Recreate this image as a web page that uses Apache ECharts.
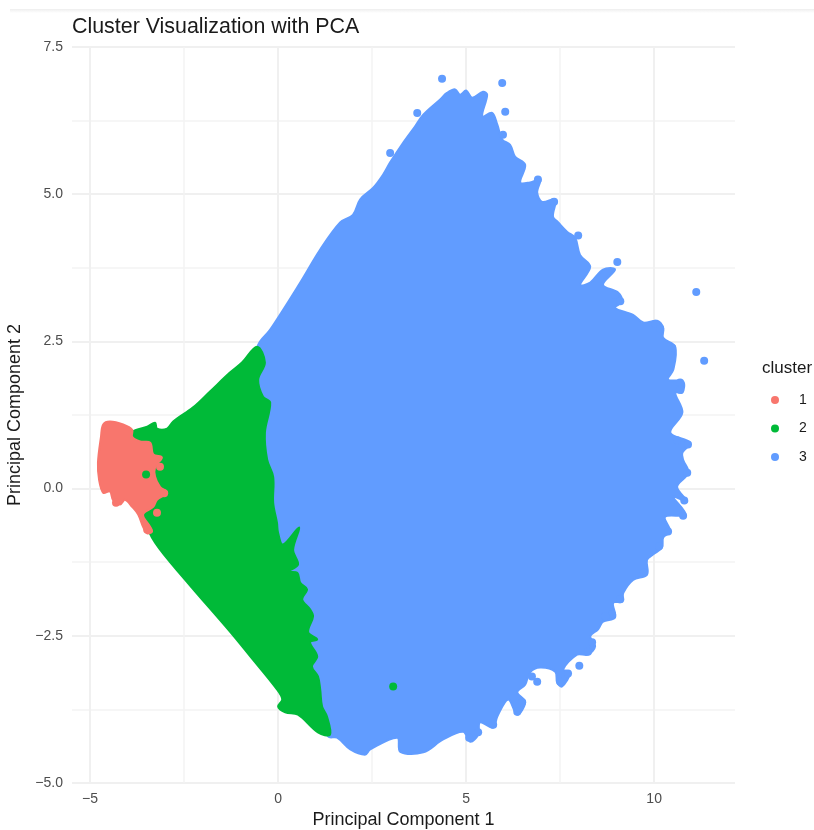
<!DOCTYPE html>
<html><head><meta charset="utf-8">
<style>html,body{margin:0;padding:0;background:#fff;overflow:hidden}#c{width:814px;height:830px;filter:blur(0.5px)}</style>
<script src="https://cdn.jsdelivr.net/npm/echarts@6/dist/echarts.min.js"></script>
</head><body><div id="c"></div>
<script>
const chartTitle = 'Cluster Visualization with PCA';
const xName = 'Principal Component 1';
const yName = 'Principal Component 2';
const legendTitle = 'cluster';
const clusters = ['1','2','3'];
const colors = ['#F8766D','#00BA38','#619CFF'];
const xMajor = [-5,0,5,10];
const xMinor = [-2.5,2.5,7.5];
const yMajor = [-5,-2.5,0,2.5,5,7.5];
const yMinor = [-3.75,-1.25,1.25,3.75,6.25];

// Outer envelopes of the dense point clouds (PC1, PC2)
const cloud3 = [[1.65,4.52],[1.99,4.65],[2.18,4.91],[2.53,5.11],[2.79,5.33],[2.98,5.54],[3.32,5.87],[3.64,6.15],[3.86,6.35],[4.31,6.61],[4.49,6.72],[4.71,6.78],[4.84,6.69],[5.00,6.76],[5.16,6.64],[5.45,6.74],[5.56,6.69],[5.43,6.32],[5.69,6.38],[5.83,6.18],[5.96,5.93],[6.17,5.84],[6.30,5.64],[6.57,5.50],[6.44,5.20],[6.70,5.20],[6.97,5.25],[6.89,5.03],[7.02,4.87],[7.37,4.91],[7.31,4.62],[7.45,4.52],[7.69,4.36],[7.90,4.26],[8.03,3.97],[8.30,3.77],[8.03,3.46],[8.30,3.50],[8.64,3.72],[8.96,3.72],[8.64,3.46],[9.04,3.33],[9.15,3.18],[8.96,3.07],[9.44,2.95],[9.71,2.82],[10.08,2.85],[10.24,2.73],[10.24,2.56],[10.56,2.41],[10.51,2.02],[10.37,1.85],[10.77,1.82],[10.75,1.63],[10.56,1.63],[10.75,1.29],[10.43,0.95],[10.96,0.78],[10.75,0.61],[10.77,0.49],[10.91,0.27],[10.61,0.03],[10.88,-0.22],[10.51,-0.14],[10.83,-0.44],[10.29,-0.48],[10.43,-0.73],[10.24,-0.83],[10.21,-1.00],[9.97,-1.12],[9.81,-1.21],[9.81,-1.46],[9.44,-1.55],[9.18,-1.77],[9.15,-1.92],[8.91,-1.94],[8.96,-2.19],[8.64,-2.26],[8.51,-2.39],[8.30,-2.51],[8.43,-2.68],[8.24,-2.82],[7.95,-2.82],[7.58,-3.07],[7.77,-3.12],[7.55,-3.36],[7.42,-3.29],[7.37,-3.11],[6.97,-3.04],[6.70,-3.12],[6.57,-3.33],[6.36,-3.46],[6.57,-3.62],[6.36,-3.84],[6.12,-3.58],[5.83,-3.87],[5.72,-4.06],[5.37,-3.97],[5.32,-4.18],[5.11,-4.30],[4.92,-4.13],[4.39,-4.26],[3.86,-4.48],[3.25,-4.47],[3.17,-4.23],[2.45,-4.43],[2.31,-4.52],[1.92,-4.43],[1.57,-4.23],[1.33,-4.21],[0.85,-3.58],[0.32,-1.88],[-0.43,0.15],[-0.74,1.85],[-0.53,2.44],[-0.21,2.70],[0.59,3.50],[1.12,4.06]];
const cloud2 = [[-0.56,2.41],[-0.96,2.14],[-1.28,1.97],[-1.81,1.65],[-2.26,1.38],[-2.79,1.14],[-2.95,1.02],[-3.22,1.02],[-3.27,1.12],[-3.48,1.05],[-3.86,0.97],[-3.88,0.87],[-3.67,0.15],[-3.54,-0.53],[-3.27,-0.92],[-2.47,-1.55],[-1.28,-2.43],[-0.74,-2.85],[-0.03,-3.41],[0.11,-3.58],[0,-3.70],[0.19,-3.80],[0.53,-3.84],[1.06,-4.14],[1.38,-4.18],[1.30,-3.87],[1.17,-3.70],[1.12,-3.41],[1.06,-3.19],[0.90,-3.02],[1.04,-2.85],[0.85,-2.61],[1.04,-2.56],[0.80,-2.44],[0.93,-2.17],[0.85,-2.05],[0.64,-1.88],[0.77,-1.71],[0.59,-1.60],[0.51,-1.43],[0.27,-1.41],[0.53,-1.29],[0.40,-1.04],[0.56,-0.66],[0.13,-0.95],[0,-0.75],[-0.03,-0.58],[-0.13,-0.24],[-0.13,0.20],[-0.29,0.49],[-0.35,0.95],[-0.21,1.46],[-0.40,1.56],[-0.53,1.85],[-0.35,2.14]];
const cloud1 = [[-4.65,1.09],[-4.47,1.14],[-4.12,1.09],[-3.88,1.00],[-3.88,0.88],[-3.67,0.80],[-3.40,0.78],[-3.32,0.58],[-3.09,0.53],[-3.27,0.37],[-3.27,0.20],[-3.14,0.03],[-2.95,-0.07],[-3.22,-0.19],[-3.32,-0.31],[-3.59,-0.44],[-3.40,-0.65],[-3.35,-0.73],[-3.48,-0.76],[-3.59,-0.65],[-3.72,-0.44],[-3.88,-0.31],[-4.07,-0.19],[-4.20,-0.27],[-4.39,-0.19],[-4.47,-0.05],[-4.65,-0.07],[-4.76,0.15],[-4.79,0.44],[-4.71,0.88]];

// Individually visible points
const points3 = [[4.36,6.96],[5.96,6.89],[6.04,6.40],[5.98,6.01],[2.98,5.70],[3.70,6.38],[6.91,5.25],[7.34,4.87],[7.98,4.30],[9.02,3.85],[11.12,3.34],[11.33,2.17],[10.69,1.80],[10.90,0.75],[10.88,0.27],[10.80,-0.20],[10.77,-0.46],[10.37,-0.73],[10.13,-0.98],[9.73,-1.43],[9.10,-1.88],[8.88,-2.14],[8.70,-2.17],[8.35,-2.61],[8.24,-2.77],[8.01,-3.01],[7.71,-3.14],[7.50,-3.28],[6.89,-3.28],[6.75,-3.19],[6.36,-3.79],[6.49,-3.63],[5.72,-4.01],[5.32,-4.14],[5.08,-4.23],[8.96,3.29],[9.10,3.18],[10.03,2.80],[10.16,2.72],[10.48,2.39],[10.69,1.68],[10.61,0.82]];
const points2 = [[-3.51,0.24],[3.06,-3.36]];
const points1 = [[-3.14,0.37],[-3.22,-0.41],[-3.03,-0.08],[-3.48,-0.70],[-4.31,-0.24]];

const xMin = -5.48, xMax = 12.15, yMin = -5, yMax = 7.5;

function cloudSeries(name, pts, color) {
  return {
    type: 'custom', name: name, data: pts, silent: true, clip: true,
    encode: {x: 0, y: 1},
    renderItem: function (params, api) {
      if (params.dataIndex !== 0) return null;
      return {
        type: 'polygon',
        shape: {points: pts.map(function (p) { return api.coord(p); }), smooth: 0.35},
        style: {fill: color, stroke: color, lineWidth: 2, lineJoin: 'round'}
      };
    }
  };
}
function pointSeries(name, pts, color) {
  return {type: 'scatter', name: name, data: pts, symbol: 'circle', symbolSize: 8,
    itemStyle: {color: color, opacity: 1}, silent: true};
}
function plainX(v) { return String(v).replace('-', '\u2212'); }
function plainY(v) { return v.toFixed(1).replace('-', '\u2212'); }

const font = '"Liberation Sans", Arial, sans-serif';
const chart = echarts.init(document.getElementById('c'), null, {renderer: 'canvas'});
chart.setOption({
  animation: false,
  backgroundColor: '#ffffff',
  textStyle: {fontFamily: font},
  title: [
    {text: chartTitle, left: 72, top: 17, padding: 0,
      textStyle: {fontFamily: font, fontSize: 21.4, fontWeight: 'normal', color: '#1a1a1a'}},
    {text: legendTitle, left: 762, top: 360, padding: 0,
      textStyle: {fontFamily: font, fontSize: 17, fontWeight: 'normal', color: '#1a1a1a'}}
  ],
  graphic: [{type: 'rect', left: 10, top: 9, shape: {width: 804, height: 4}, z: -1,
    style: {fill: new echarts.graphic.LinearGradient(0, 0, 0, 1, [{offset: 0, color: '#eeeeee'}, {offset: 1, color: '#ffffff'}])}}],
  legend: {
    data: clusters, orient: 'vertical', left: 771, top: 393, padding: 0,
    icon: 'circle', itemWidth: 8, itemHeight: 8, itemGap: 14.5,
    selectedMode: false,
    textStyle: {fontFamily: font, fontSize: 14, color: '#1a1a1a', padding: [0,0,0,15]}
  },
  grid: {left: 72, right: 79, top: 47, bottom: 47, containLabel: false, outerBoundsMode: 'none'},
  xAxis: [
    {type: 'value', min: xMin, max: xMax, name: xName, nameLocation: 'middle', nameGap: 26,
      nameTextStyle: {fontFamily: font, fontSize: 18, color: '#1a1a1a'},
      axisLine: {show: false},
      axisTick: {show: false, customValues: xMajor},
      axisLabel: {customValues: xMajor, formatter: plainX, color: '#4d4d4d', fontSize: 14, margin: 9, fontFamily: font},
      splitLine: {show: true, lineStyle: {color: '#f0f0f0', width: 2}}},
    {type: 'value', min: xMin, max: xMax, position: 'bottom',
      axisLine: {show: false},
      axisTick: {show: false, customValues: xMinor},
      axisLabel: {show: false},
      splitLine: {show: true, lineStyle: {color: '#f3f3f3', width: 1.5}}}
  ],
  yAxis: [
    {type: 'value', min: yMin, max: yMax, name: yName, nameLocation: 'middle', nameGap: 43,
      nameTextStyle: {fontFamily: font, fontSize: 18, color: '#1a1a1a'},
      axisLine: {show: false},
      axisTick: {show: false, customValues: yMajor},
      axisLabel: {customValues: yMajor, formatter: plainY, color: '#4d4d4d', fontSize: 14, margin: 9, fontFamily: font},
      splitLine: {show: true, lineStyle: {color: '#f0f0f0', width: 2}}},
    {type: 'value', min: yMin, max: yMax, position: 'left',
      axisLine: {show: false},
      axisTick: {show: false, customValues: yMinor},
      axisLabel: {show: false},
      splitLine: {show: true, lineStyle: {color: '#f3f3f3', width: 1.5}}}
  ],
  series: [
    cloudSeries('cloud 3', cloud3, colors[2]),
    pointSeries('3', points3, colors[2]),
    cloudSeries('cloud 2', cloud2, colors[1]),
    cloudSeries('cloud 1', cloud1, colors[0]),
    pointSeries('1', points1, colors[0]),
    pointSeries('2', points2, colors[1])
  ]
});
</script></body></html>
